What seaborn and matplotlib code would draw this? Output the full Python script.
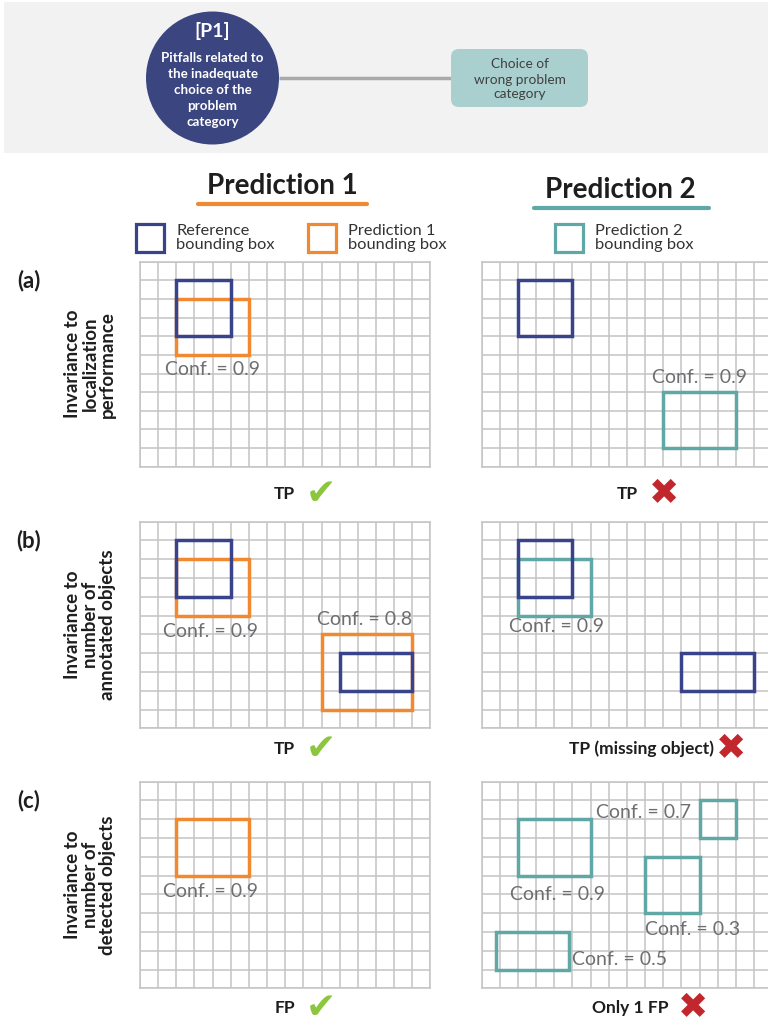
import seaborn as sns
import matplotlib.pyplot as plt
from matplotlib.patches import Rectangle, Circle, FancyBboxPatch

sns.set_theme(style='whitegrid')
plt.rcParams['font.family'] = ['Lato', 'DejaVu Sans']

NAVY = '#39438a'
ORANGE = '#f0892f'
TEAL = '#5fa8a5'
GRIDC = '#c4c4c4'
CONFC = '#6d6e71'
GREEN = '#8cc63f'
RED = '#c1272d'

# grid size (cells)
n_cols = 16
n_rows = 11

# boxes as (col, row, width, height) in grid cells
ref_a1 = [(2, 1, 3, 3)]
pred_a1 = [(2, 2, 4, 3)]
conf_a1 = [(0.9, 4.0, 5.8)]

ref_a2 = [(2, 1, 3, 3)]
pred_a2 = [(10, 7, 4, 3)]
conf_a2 = [(0.9, 12.0, 6.2)]

ref_b1 = [(2, 1, 3, 3), (11, 7, 4, 2)]
pred_b1 = [(2, 2, 4, 3), (10, 6, 5, 4)]
conf_b1 = [(0.9, 3.9, 5.85), (0.8, 12.4, 5.2)]

ref_b2 = [(2, 1, 3, 3), (11, 7, 4, 2)]
pred_b2 = [(2, 2, 4, 3)]
conf_b2 = [(0.9, 4.1, 5.6)]

ref_c1 = []
pred_c1 = [(2, 2, 4, 3)]
conf_c1 = [(0.9, 3.9, 5.85)]

ref_c2 = []
pred_c2 = [(2, 2, 4, 3), (12, 1, 2, 2), (9, 4, 3, 3), (0.8, 8, 4, 2)]
conf_c2 = [(0.9, 4.2, 6.0), (0.7, 8.9, 1.63), (0.3, 11.6, 7.85), (0.5, 7.6, 9.45)]

row_tags = ['(a)', '(b)', '(c)']
row_labels = ['Invariance to\nlocalization\nperformance',
              'Invariance to\nnumber of\nannotated objects',
              'Invariance to\nnumber of\ndetected objects']
verdict_1 = ['TP', 'TP', 'FP']
verdict_2 = ['TP', 'TP (missing object)', 'Only 1 FP']
ok_1 = [True, True, True]
ok_2 = [False, False, False]

W, H = 768, 1025
fig = plt.figure(figsize=(W / 100, H / 100), dpi=100)
fig.patch.set_facecolor('white')

# background canvas in pixel coordinates
bg = fig.add_axes([0, 0, 1, 1])
bg.set_xlim(0, W)
bg.set_ylim(H, 0)
bg.axis('off')
bg.set_zorder(0)

# top banner
bg.add_patch(Rectangle((4, 2), W - 4, 151, fc='#f2f2f2', ec='none'))
bg.plot([279, 451], [78, 78], color='#a9a9a9', lw=2.5, solid_capstyle='butt')
bg.add_patch(Circle((212.5, 78), 66.5, fc='#3b4580', ec='none', zorder=3))
bg.text(212.5, 31, '[P1]', color='white', fontsize=14, fontweight='bold', ha='center', va='center', zorder=4)
bg.text(212.5, 90, 'Pitfalls related to\nthe inadequate\nchoice of the\nproblem\ncategory',
        color='white', fontsize=9.6, fontweight='bold', ha='center', va='center', linespacing=1.38, zorder=4)
bg.add_patch(FancyBboxPatch((451, 49), 137, 58, boxstyle='round,pad=0,rounding_size=8',
                            fc='#a9cfcf', ec='none', zorder=3))
bg.text(519.5, 79.5, 'Choice of\nwrong problem\ncategory', color='#404040', fontsize=9.8,
        ha='center', va='center', linespacing=1.3, zorder=4)

# column titles
bg.text(282, 186, 'Prediction 1', fontsize=20, fontweight='bold', color='#1e1e1e', ha='center', va='center')
bg.plot([198, 367], [204, 204], color=ORANGE, lw=3)
bg.text(620, 190, 'Prediction 2', fontsize=20, fontweight='bold', color='#1e1e1e', ha='center', va='center')
bg.plot([534, 709], [208, 208], color=TEAL, lw=3)

# legend
for x0, c, label in [(136, NAVY, 'Reference\nbounding box'),
                     (308, ORANGE, 'Prediction 1\nbounding box'),
                     (555, TEAL, 'Prediction 2\nbounding box')]:
    bg.add_patch(Rectangle((x0, 224), 28, 28, fill=False, ec=c, lw=2.3))
    bg.text(x0 + 40, 238, label, fontsize=11.8, color='#333333', ha='left', va='center', linespacing=1.0)

grid_tops = [261.7, 521.7, 781.7]
grid_heights = [205, 206.6, 206.6]
col_x = [140, 481.7]
cell_w = 18.15
verdict_y = [494, 749, 1008]

panels = [
    [(ref_a1, pred_a1, conf_a1, ORANGE), (ref_a2, pred_a2, conf_a2, TEAL)],
    [(ref_b1, pred_b1, conf_b1, ORANGE), (ref_b2, pred_b2, conf_b2, TEAL)],
    [(ref_c1, pred_c1, conf_c1, ORANGE), (ref_c2, pred_c2, conf_c2, TEAL)],
]


def draw_grid(ax, refs, preds, confs, pcolor):
    ax.set_xlim(0, n_cols)
    ax.set_ylim(n_rows, 0)
    ax.set_xticks(range(n_cols + 1))
    ax.set_yticks(range(n_rows + 1))
    ax.set_xticklabels([])
    ax.set_yticklabels([])
    ax.tick_params(length=0)
    ax.grid(True, color=GRIDC, lw=1.1)
    ax.set_facecolor('white')
    for s in ax.spines.values():
        s.set_color(GRIDC)
        s.set_linewidth(1.1)
    for c, r, w, h in preds:
        ax.add_patch(Rectangle((c, r), w, h, fill=False, ec=pcolor, lw=2.5, zorder=3))
    for c, r, w, h in refs:
        ax.add_patch(Rectangle((c, r), w, h, fill=False, ec=NAVY, lw=2.5, zorder=4))
    for v, x, y in confs:
        ax.text(x, y, f'Conf. = {v}', color=CONFC, fontsize=14, ha='center', va='center', zorder=5)


for i in range(3):
    top, h = grid_tops[i], grid_heights[i]
    for j in range(2):
        x0 = col_x[j]
        ax = fig.add_axes([x0 / W, 1 - (top + h) / H, n_cols * cell_w / W, h / H])
        ax.set_zorder(1)
        refs, preds, confs, pc = panels[i][j]
        draw_grid(ax, refs, preds, confs, pc)

    # row tag and rotated label
    bg.text(29, top + 19, row_tags[i], fontsize=16, fontweight='bold', color='#1e1e1e',
            ha='center', va='center')
    bg.text(90, top + h / 2, row_labels[i], fontsize=13.5, color='#1e1e1e', rotation=90,
            ha='center', va='center', linespacing=1.0, fontweight='bold')

    # verdicts
    vy = verdict_y[i]
    bg.text(295, vy, verdict_1[i], fontsize=12.5, fontweight='bold', color='#1e1e1e', ha='right', va='center')
    bg.text(306, vy, '\u2714' if ok_1[i] else '\u2716', fontsize=26, color=GREEN if ok_1[i] else RED,
            ha='left', va='center', family='DejaVu Sans')
    right_end = [638, 714, 668][i]
    mark_x = [649, 716, 678][i]
    bg.text(right_end, vy, verdict_2[i], fontsize=12.5, fontweight='bold', color='#1e1e1e', ha='right', va='center')
    bg.text(mark_x, vy, '\u2714' if ok_2[i] else '\u2716', fontsize=26, color=GREEN if ok_2[i] else RED,
            ha='left', va='center', family='DejaVu Sans')

fig.savefig('out.png', dpi=100)
